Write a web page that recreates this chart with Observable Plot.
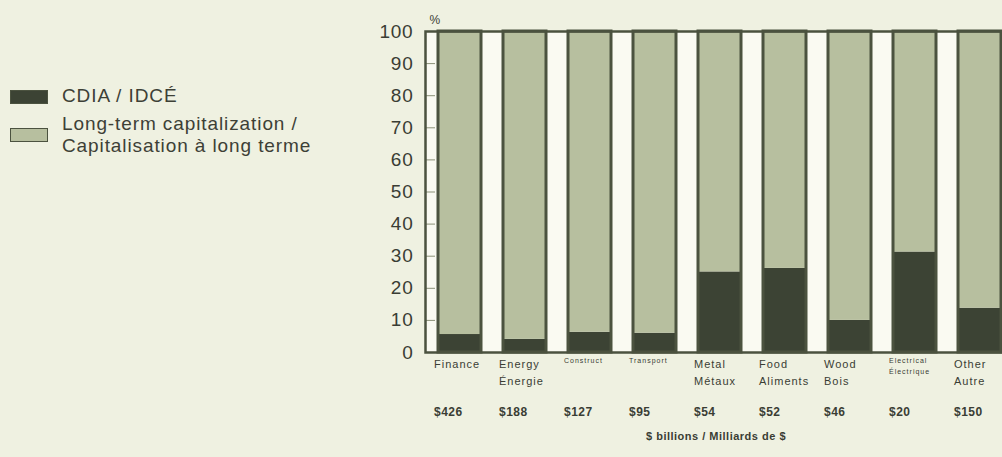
<!DOCTYPE html>
<html>
<head>
<meta charset="utf-8">
<script src="https://cdn.jsdelivr.net/npm/d3@7"></script>
<script src="https://cdn.jsdelivr.net/npm/@observablehq/plot@0.6"></script>
<style>
  html, body { margin: 0; padding: 0; background: #eff1e1; overflow: hidden; }
  body { width: 1002px; height: 457px; position: relative; font-family: "Liberation Sans", Arial, sans-serif; }
  #chart { position: absolute; left: 0; top: 0; }
  #legend { position: absolute; left: 10px; top: 85px; color: #3d4036; font-size: 19px; line-height: 22px; letter-spacing: 0.9px; }
  .item { position: relative; padding-left: 52px; margin-bottom: 6px; }
  .sw { position: absolute; left: 0; width: 36px; height: 12px; }
  .cat-label { letter-spacing: 1px; }
  .ytick { letter-spacing: 0.8px; }
  .val { letter-spacing: 0.5px; }
  .ttl { letter-spacing: 0.5px; }
</style>
</head>
<body>
<div id="chart"></div>
<div id="legend"></div>
<script>
// ---- data ----
const categories = ["Finance", "Energy", "Construct", "Transport", "Metal", "Food", "Wood", "Electrical", "Other"];
const categoryLabels = ["Finance", "Energy\nÉnergie", "Construct", "Transport", "Metal\nMétaux", "Food\nAliments", "Wood\nBois", "Electrical\nÉlectrique", "Other\nAutre"];
const cdiaShare = [5.6, 4.1, 6.3, 6.0, 25.1, 26.2, 10.0, 31.3, 13.8];   // % CDIA / IDCÉ
const totalBillions = [426, 188, 127, 95, 54, 52, 46, 20, 150];        // $ billions
const yTicks = [0, 10, 20, 30, 40, 50, 60, 70, 80, 90, 100];
const seriesNames = ["CDIA / IDCÉ", "Long-term capitalization /\nCapitalisation à long terme"];
const axisTitle = "$ billions / Milliards de $";

const rows = categories.map((c, i) => ({
  cat: c, label: categoryLabels[i], cdia: cdiaShare[i], total: totalBillions[i]
}));

const dark = "#3c4334", light = "#b7bf9f", edge = "#4b523f", ink = "#3a3d34";

const chart = Plot.plot({
  width: 1002, height: 457,
  marginLeft: 425, marginRight: 0, marginTop: 31, marginBottom: 105,
  style: { background: "transparent", fontFamily: "Liberation Sans, Arial, sans-serif", color: ink },
  x: { type: "band", domain: categories, paddingInner: 0.34, paddingOuter: 0.108, align: 0.93, axis: null },
  y: { domain: [0, 100], axis: null },
  marks: [
    Plot.frame({ fill: "#fafaf2", stroke: null }),
    Plot.axisY({ ticks: yTicks, tickSize: 0, tickPadding: 12, fontSize: 19, label: null, fill: ink, className: "ytick" }),
    Plot.axisY({ ticks: yTicks.slice(1, -1), tickSize: -10, tickFormat: () => "", label: null, stroke: "#8a9078" }),
    Plot.barY(rows, { x: "cat", y1: 0, y2: "cdia", fill: dark }),
    Plot.barY(rows, { x: "cat", y1: "cdia", y2: 100, fill: light }),
    Plot.barY(rows, { x: "cat", y1: "cdia", y2: "cdia", stroke: "#c9cfb6", strokeWidth: 1.5 }),
    Plot.barY(rows, { x: "cat", y1: 0, y2: 100, fill: "none", stroke: edge, strokeWidth: 3 }),
    Plot.frame({ stroke: edge, strokeWidth: 2.5 }),
    Plot.text(["%"], { frameAnchor: "top-left", dx: 4, dy: -16, fontSize: 12, fill: ink }),
    Plot.text(rows, {
      x: "cat", text: "label", frameAnchor: "bottom", dy: 3, dx: -26,
      textAnchor: "start", lineAnchor: "top", lineHeight: 1.55,
      fontSize: d => d.cat.length > 8 ? 7 : 11,
      fontWeight: d => d.cat === "Metal" ? "bold" : "normal",
      fill: ink, className: "cat-label"
    }),
    Plot.text(rows, {
      x: "cat", text: d => "$" + d.total, frameAnchor: "bottom", dy: 63, dx: -26,
      textAnchor: "start", fontSize: 12, fontWeight: "bold", fill: ink, className: "val"
    }),
    Plot.text([axisTitle], { frameAnchor: "bottom", dy: 87, dx: 2, fontSize: 11, fontWeight: "bold", fill: ink, className: "ttl" })
  ]
});
document.getElementById("chart").appendChild(chart);

// ---- legend ----
const legend = document.getElementById("legend");
[dark, light].forEach((col, i) => {
  const item = document.createElement("div");
  item.className = "item";
  const sw = document.createElement("span");
  sw.className = "sw";
  sw.style.background = col;
  sw.style.border = "1px solid " + edge;
  sw.style.top = i === 0 ? "5px" : "15px";
  item.appendChild(sw);
  seriesNames[i].split("\n").forEach(line => {
    const d = document.createElement("div");
    d.textContent = line;
    item.appendChild(d);
  });
  legend.appendChild(item);
});
</script>
</body>
</html>
